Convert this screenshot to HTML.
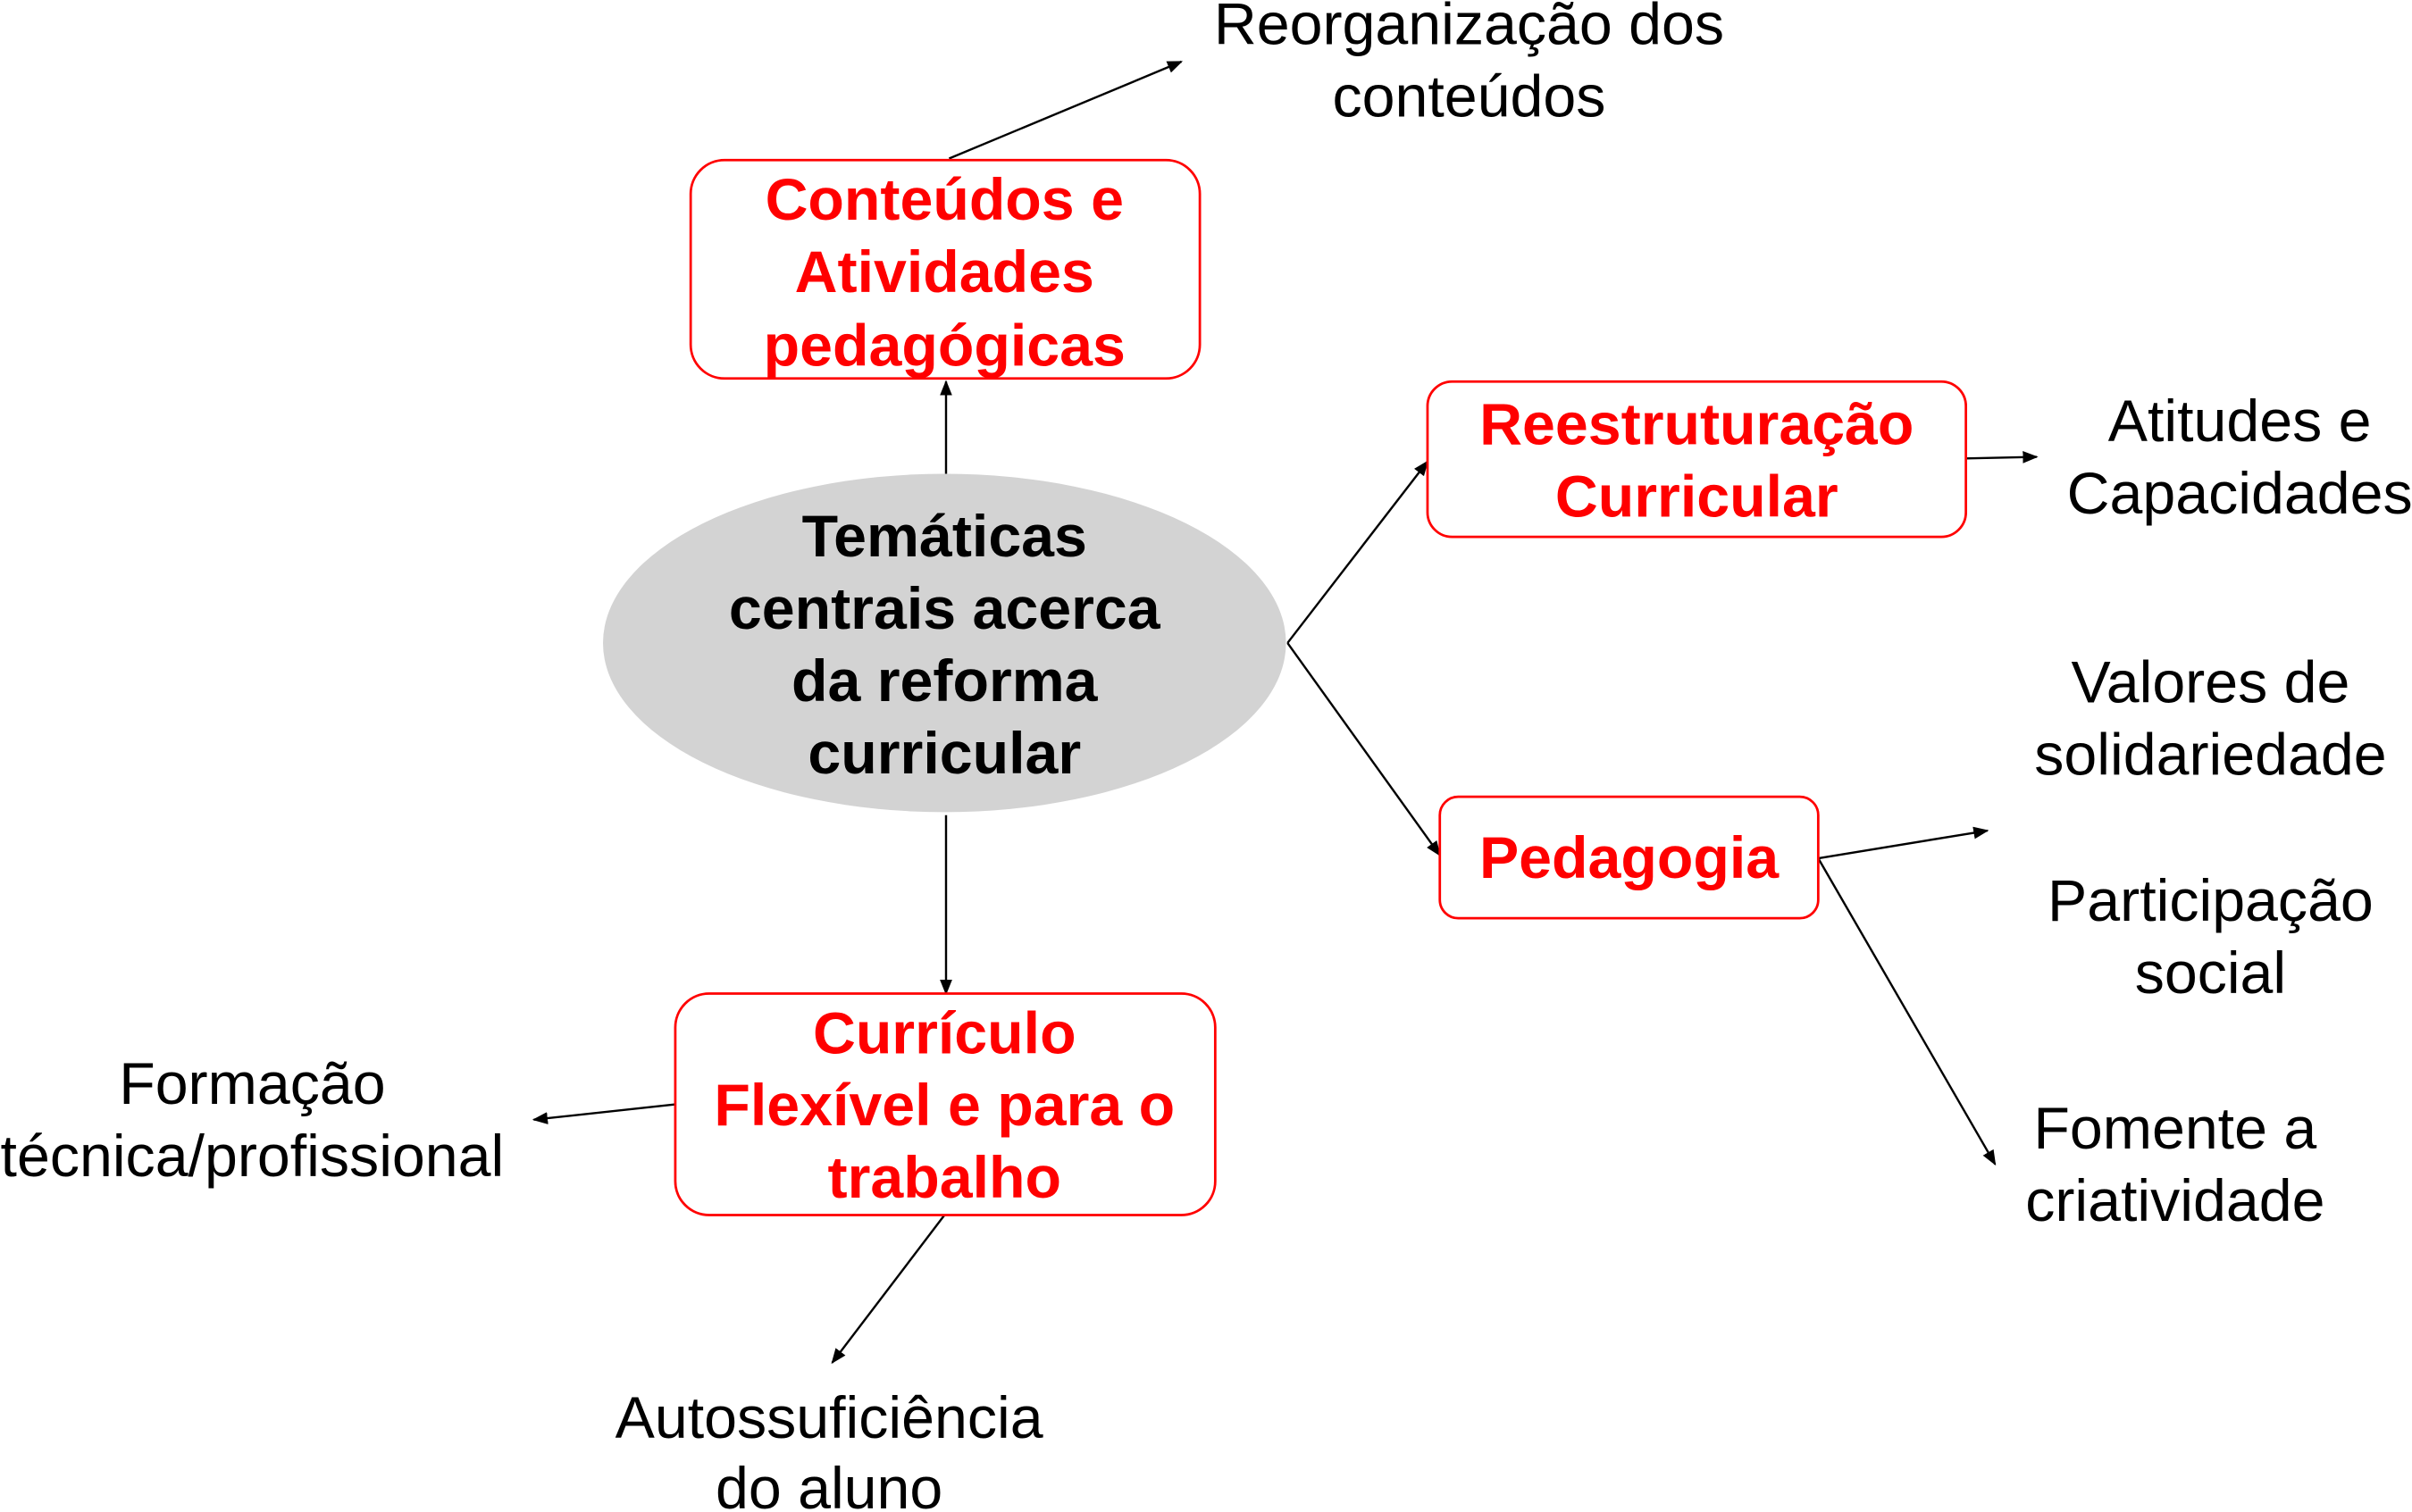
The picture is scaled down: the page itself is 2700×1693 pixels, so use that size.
<!DOCTYPE html>
<html><head><meta charset="utf-8"><style>html,body{margin:0;padding:0;background:#fff;}svg{display:block}</style></head>
<body>
<svg width="2700" height="1693" viewBox="0 0 1568 983" xmlns="http://www.w3.org/2000/svg">
<defs><marker id="a" markerWidth="10" markerHeight="8" refX="9" refY="4" orient="auto" markerUnits="userSpaceOnUse"><path d="M0,0 L10,4 L0,8 z" fill="#000"/></marker></defs>
<g fill="none" stroke="#000" stroke-width="1.4" marker-end="url(#a)">
<line x1="617" y1="103" x2="768" y2="40"/>
<line x1="615" y1="308" x2="615" y2="248"/>
<line x1="837" y1="418" x2="928" y2="300"/>
<line x1="837" y1="418" x2="936" y2="556"/>
<line x1="1278" y1="298" x2="1324" y2="297"/>
<line x1="1182" y1="558" x2="1292" y2="540"/>
<line x1="1182" y1="558" x2="1297" y2="757"/>
<line x1="615" y1="530" x2="615" y2="646"/>
<line x1="439" y1="718" x2="347" y2="728"/>
<line x1="614" y1="790" x2="541" y2="886"/>
</g>
<ellipse cx="614" cy="418" rx="222" ry="110" fill="#d3d3d3"/>
<g fill="#fff" stroke="#ff0000" stroke-width="1.6">
<rect x="449" y="104" width="331" height="142" rx="22"/>
<rect x="928" y="248" width="350" height="101" rx="16"/>
<rect x="936" y="518" width="246" height="79" rx="12"/>
<rect x="439" y="646" width="351" height="144" rx="22"/>
</g>
<g font-family="Liberation Sans, Arial, sans-serif" font-size="38.5" text-anchor="middle" dominant-baseline="central">
<g font-weight="bold" fill="#ff0000">
<text x="614" y="130">Conteúdos e</text><text x="614" y="177">Atividades</text><text x="614" y="225">pedagógicas</text>
<text x="1103" y="276">Reestruturação</text><text x="1103" y="323">Curricular</text>
<text x="1059" y="558">Pedagogia</text>
<text x="614" y="672">Currículo</text><text x="614" y="719">Flexível e para o</text><text x="614" y="766">trabalho</text>
</g>
<g font-weight="bold" fill="#000">
<text x="614" y="349">Temáticas</text><text x="614" y="396">centrais acerca</text><text x="614" y="443">da reforma</text><text x="614" y="490">curricular</text>
</g>
<g fill="#000">
<text x="955" y="16">Reorganização dos</text><text x="955" y="63">conteúdos</text>
<text x="1456" y="274">Atitudes e</text><text x="1456" y="321">Capacidades</text>
<text x="1437" y="444">Valores de</text><text x="1437" y="491">solidariedade</text>
<text x="1437" y="586">Participação</text><text x="1437" y="633">social</text>
<text x="1414" y="734">Fomente a</text><text x="1414" y="781">criatividade</text>
<text x="164" y="705">Formação</text><text x="164" y="752">técnica/profissional</text>
<text x="539" y="922">Autossuficiência</text><text x="539" y="968">do aluno</text>
</g>
</g>
</svg>
</body></html>
